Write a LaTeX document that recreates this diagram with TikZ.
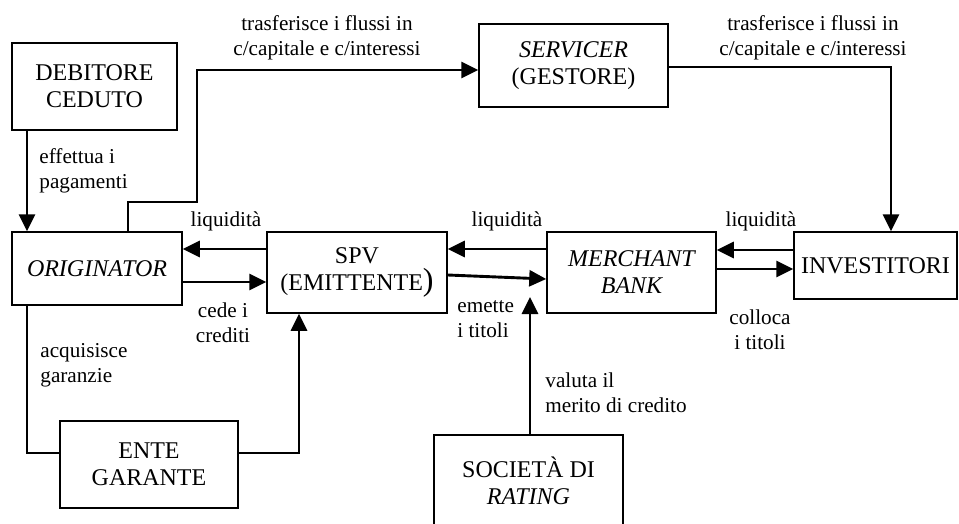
\documentclass[tikz,border=0pt]{standalone}
\usepackage{fontspec}
\setmainfont{Liberation Serif}
\usetikzlibrary{arrows.meta}
\tikzset{
  box/.style={draw, line width=0.75pt, inner sep=0pt, align=center,
    font=\fontsize{12}{13.5}\selectfont},
  lbl/.style={inner sep=0pt, align=center, font=\fontsize{10.6}{12.5}\selectfont},
  arr/.style={line width=1.45pt, -{Triangle[length=8.5pt,width=8pt]}},
  plain/.style={line width=1.1pt},
}
\begin{document}
\begin{tikzpicture}[x=0.5pt,y=-0.5pt]
\useasboundingbox (0,0) rectangle (959,524);
\clip (0,0) rectangle (959,524);
% boxes
\node[box, minimum width=82.5pt, minimum height=43.5pt] (deb) at (94.5,86.5) {DEBITORE\\CEDUTO};
\node[box, minimum width=85pt, minimum height=36.5pt] (orig) at (97,268.5) {\itshape ORIGINATOR};
\node[box, minimum width=90pt, minimum height=40.5pt] (spv) at (357,272.5) {SPV\\(EMITTENTE{\fontsize{16}{13.5}\selectfont)}};
\node[box, minimum width=94.5pt, minimum height=41.5pt] (serv) at (573.5,65.5) {\textit{SERVICER}\\(GESTORE)};
\node[box, minimum width=84.5pt, minimum height=40.5pt] (merch) at (631.5,272.5) {\itshape MERCHANT\\\itshape BANK};
\node[box, minimum width=81.5pt, minimum height=33.5pt] (inv) at (875.5,265.5) {INVESTITORI};
\node[box, minimum width=89pt, minimum height=43.5pt] (ente) at (149,464.5) {ENTE\\GARANTE};
\node[box, minimum width=94.5pt, minimum height=46pt] (soc) at (528.5,481) {SOCIETÀ DI\\\textit{RATING}};
% helper coordinates
\coordinate (p1) at (128,202);
\coordinate (p2) at (197,70);
\coordinate (p3) at (891,67);
\coordinate (p4) at (27,453);
\coordinate (p6) at (299,453);
\coordinate (p5) at (530,297);
\coordinate (ya) at (0,249);
\coordinate (yb) at (0,282);
\coordinate (yc) at (0,275);
\coordinate (yd) at (0,279);
\coordinate (ye) at (0,250);
\coordinate (yf) at (0,269);
% connectors
\draw[arr] (deb.south -| p4) -- (orig.north -| p4);
\draw[arr] (orig.north -| p1) -- (p1) -| (p2) -- (p2 -| serv.west);
\draw[arr] (p3 -| serv.east) -- (p3) -- (p3 |- inv.north);
\draw[arr] (spv.west |- ya) -- (orig.east |- ya);
\draw[arr] (orig.east |- yb) -- (spv.west |- yb);
\draw[arr] (merch.west |- ya) -- (spv.east |- ya);
\draw[arr] (spv.east |- yc) -- (merch.west |- yd);
\draw[arr] (inv.west |- ye) -- (merch.east |- ye);
\draw[arr] (merch.east |- yf) -- (inv.west |- yf);
\draw[plain] (orig.south -| p4) -- (p4) -- (ente.west |- p4);
\draw[arr] (ente.east |- p6) -- (p6) -- (spv.south -| p6);
\draw[arr] (soc.north -| p5) -- (p5);
% labels
\node[lbl] (l1) at (327,37.5) {trasferisce i flussi in\\c/capitale e c/interessi};
\node[lbl] (l2) at (813,37.5) {trasferisce i flussi in\\c/capitale e c/interessi};
\node[lbl, anchor=west, align=left] (l3) at (39,171) {effettua i\\pagamenti};
\node[lbl, anchor=base] (l4) at (226,227) {liquidità};
\node[lbl, anchor=base] (l5) at (507,227) {liquidità};
\node[lbl, anchor=base] (l6) at (761,227) {liquidità};
\node[lbl] (l7) at (223,322.5) {cede i\\crediti};
\node[lbl, anchor=west, align=left] (l8) at (457,319) {emette\\i titoli};
\node[lbl] (l9) at (760,329.5) {colloca\\i titoli};
\node[lbl, anchor=west, align=left] (l10) at (40,365) {acquisisce\\garanzie};
\node[lbl, anchor=west, align=left] (l11) at (545,393) {valuta il\\merito di credito};
\end{tikzpicture}
\end{document}
